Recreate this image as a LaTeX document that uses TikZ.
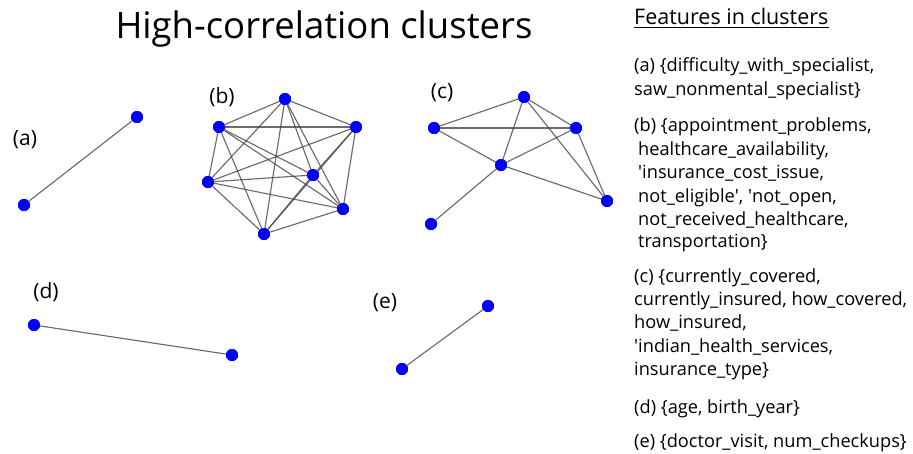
\documentclass[tikz,border=0pt]{standalone}
\usepackage{fontspec}
\setmainfont{Open Sans}
\usetikzlibrary{calc}
\newcommand{\sq}{\textquotesingle}
\begin{document}
\begin{tikzpicture}[x=1pt,y=-1pt,
  vtx/.style={circle,fill=blue,draw=none,inner sep=0pt,minimum size=12pt},
  edge/.style={draw=black!72,line width=1.15pt,opacity=0.8},
  lbl/.style={font=\fontsize{21}{25}\selectfont,inner sep=0pt},
  feat/.style={font=\fontsize{18.2}{21}\selectfont,inner sep=0pt,anchor=base west},
]
\useasboundingbox (0,0) rectangle (913,453);

% title
\node[font=\fontsize{36.5}{42}\selectfont,inner sep=0pt,anchor=base] (title) at (324,38) {High-correlation clusters};

% cluster (a)
\node[lbl] (la) at (25,140) {(a)};
\node[vtx] (a1) at (137,117) {};
\node[vtx] (a2) at (24,205) {};
\draw[edge] (a1) -- (a2);

% cluster (b): complete graph on seven vertices
\node[lbl] (lb) at (222,97) {(b)};
\node[vtx] (bT) at (285,99) {};
\node[vtx] (bUL) at (219,127) {};
\node[vtx] (bUR) at (356,127) {};
\node[vtx] (bL) at (208,182) {};
\node[vtx] (bI) at (313,175) {};
\node[vtx] (bLR) at (343,209) {};
\node[vtx] (bB) at (264,234) {};
\foreach \u/\v in {bT/bUL,bT/bUR,bT/bL,bT/bI,bT/bLR,bT/bB,
                   bUL/bUR,bUL/bL,bUL/bI,bUL/bLR,bUL/bB,
                   bUR/bL,bUR/bI,bUR/bLR,bUR/bB,
                   bL/bI,bL/bLR,bL/bB,
                   bI/bLR,bI/bB,
                   bLR/bB}
  \draw[edge] (\u) -- (\v);

% cluster (c)
\node[lbl] (lc) at (442,93) {(c)};
\node[vtx] (cT) at (524,97) {};
\node[vtx] (cL) at (434,128) {};
\node[vtx] (cR) at (576,128) {};
\node[vtx] (cC) at (501,165) {};
\node[vtx] (cF) at (607,201) {};
\node[vtx] (cB) at (431,224) {};
\foreach \u/\v in {cT/cL,cT/cR,cT/cC,cT/cF,cL/cR,cL/cC,cC/cR,cR/cF,cC/cF,cC/cB}
  \draw[edge] (\u) -- (\v);

% cluster (d)
\node[lbl] (ld) at (46,292) {(d)};
\node[vtx] (d1) at (34,325) {};
\node[vtx] (d2) at (232,355) {};
\draw[edge] (d1) -- (d2);

% cluster (e)
\node[lbl] (le) at (385,303) {(e)};
\node[vtx] (e1) at (488,306) {};
\node[vtx] (e2) at (402,369) {};
\draw[edge] (e1) -- (e2);

% redraw vertices above the edges
\foreach \n in {a1,a2,bT,bUL,bUR,bL,bI,bLR,bB,cT,cL,cR,cC,cF,cB,d1,d2,e1,e2}
  \fill[blue] (\n) circle (6pt);

% feature list
\node[font=\fontsize{21.5}{25}\selectfont,inner sep=0pt,anchor=base west] (fh) at (634,24) {Features in clusters};
\draw[line width=0.9pt] ($(fh.base west)+(0,3)$) -- ($(fh.base east)+(0,3)$);

\node[feat] (fa1) at (634,71) {(a) \{difficulty\_with\_specialist,};
\node[feat] (fa2) at (634,95) {saw\_nonmental\_specialist\}};
\node[feat] (fb1) at (634,131) {(b) \{appointment\_problems,};
\node[feat] (fb2) at (638,155) {healthcare\_availability,};
\node[feat] (fb3) at (638,178) {\sq insurance\_cost\_issue,};
\node[feat] (fb4) at (638,202) {not\_eligible\sq, \sq not\_open,};
\node[feat] (fb5) at (638,225) {not\_received\_healthcare,};
\node[feat] (fb6) at (638,247) {transportation\}};
\node[feat] (fc1) at (634,282) {(c) \{currently\_covered,};
\node[feat] (fc2) at (634,305) {currently\_insured, how\_covered,};
\node[feat] (fc3) at (634,328) {how\_insured,};
\node[feat] (fc4) at (634,352) {\sq indian\_health\_services,};
\node[feat] (fc5) at (634,375) {insurance\_type\}};
\node[feat] (fd1) at (634,413) {(d) \{age, birth\_year\}};
\node[feat] (fe1) at (634,447) {(e) \{doctor\_visit, num\_checkups\}};
\end{tikzpicture}
\end{document}
